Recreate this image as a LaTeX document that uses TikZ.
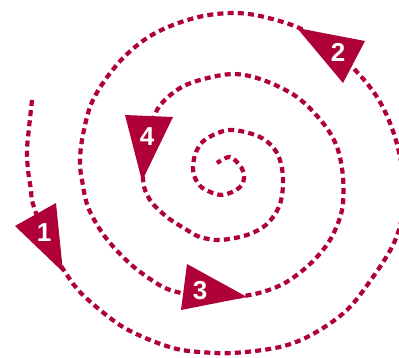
\documentclass[tikz,border=0pt]{standalone}
\usepackage{fontspec}
\setmainfont{Liberation Sans}
\definecolor{spiralred}{RGB}{175,0,56}
\tikzset{
  spiralline/.style={draw=spiralred, line width=4.2pt, dash pattern=on 6pt off 4.2pt},
  arrowtri/.style={fill=spiralred},
  numlabel/.style={text=white, font=\fontsize{26}{26}\selectfont\bfseries, inner sep=0pt}
}
\begin{document}
\begin{tikzpicture}[x=1pt,y=-1pt]
\useasboundingbox (0,0) rectangle (399,357);
\clip (0,0) rectangle (399,357);
% spiral
\draw[spiralline] plot[smooth, tension=0.55] coordinates {
 (32,100) (29,128) (27,150) (28,170) (31,190) (33,204) (47,242) (67,275) (80,292) (100,310)
 (123,327) (150,340) (177,349) (200,352) (233,353) (280,347) (313,334) (347,310)
 (373,277) (392,247) (401,222) (405,188) (399,152) (390,123) (377,97) (357,72)
 (328,45) (297,27) (260,16) (233,13) (203,16) (173,25) (147,38) (123,58) (103,83)
 (90,107) (82,140) (80,163) (82,180) (88,207) (103,234) (123,257) (143,274) (170,290)
 (210,297) (250,295) (283,284) (310,264) (330,240) (342,210) (343,177) (337,147)
 (323,123) (297,97) (263,80) (233,74) (200,80) (177,90) (157,110) (148,143)
 (143,179) (150,200) (167,217) (187,230) (200,237) (220,240) (247,235) (267,224)
 (280,204) (283,177) (277,153) (260,137) (230,130) (206,139) (196,152) (193,168)
 (196,180) (204,189) (222,195) (239,188) (244,178) (241,167) (230,157) (217,163)};
% arrowheads
\coordinate (a1) at (15,226); \coordinate (b1) at (56,203); \coordinate (c1) at (63,272);
\coordinate (a2) at (297,28); \coordinate (b2) at (365,41); \coordinate (c2) at (343,83);
\coordinate (a3) at (187,264); \coordinate (b3) at (247,297); \coordinate (c3) at (181,310);
\coordinate (a4) at (125,115); \coordinate (b4) at (173,117); \coordinate (c4) at (142,181);
\fill[arrowtri] (a1) -- (b1) -- (c1) -- cycle;
\fill[arrowtri] (a2) -- (b2) -- (c2) -- cycle;
\fill[arrowtri] (a3) -- (b3) -- (c3) -- cycle;
\fill[arrowtri] (a4) -- (b4) -- (c4) -- cycle;
\node[numlabel] (n1) at (44,233) {1};
\node[numlabel] (n2) at (338,52) {2};
\node[numlabel] (n3) at (200,291) {3};
\node[numlabel] (n4) at (147,137) {4};
\end{tikzpicture}
\end{document}
